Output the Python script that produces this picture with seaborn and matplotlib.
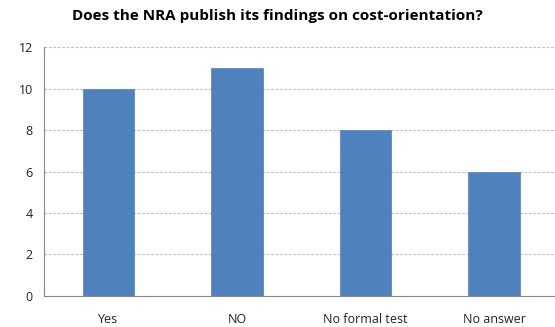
import matplotlib
matplotlib.use("Agg")
import matplotlib.pyplot as plt
import seaborn as sns
import pandas as pd
import numpy as np

categories = ["Yes", "NO", "No formal test", "No answer"]
counts = [10, 11, 8, 6]
y_ticks = [0, 2, 4, 6, 8, 10, 12]
title = "Does the NRA publish its findings on cost-orientation?"

sns.set_style("white")
plt.rcParams["font.family"] = ["Open Sans", "DejaVu Sans"]

df = pd.DataFrame({"category": categories, "count": counts})

fig = plt.figure(figsize=(5.55, 3.27), dpi=100)
ax = fig.add_axes([0.0793, 0.095, 0.927, 0.761])

sns.barplot(data=df, x="category", y="count", color="#4F81BD", saturation=1,
            width=0.40, ax=ax, zorder=3, edgecolor="#5A8BC6", linewidth=0.6)

ax.set_ylim(0, 12)
ax.set_xlim(-0.5, len(categories) - 0.5)
ax.set_yticks(y_ticks)
ax.set_yticklabels([str(t) for t in y_ticks], fontsize=9, color="#222222")
ax.tick_params(axis="x", length=0, labelsize=9, colors="#222222", pad=12)
ax.tick_params(axis="y", length=4, width=0.8, color="#868686", direction="out", pad=4)
ax.set_xticks(np.arange(-0.5, len(categories) + 0.5, 1), minor=True)
ax.tick_params(axis="x", which="minor", length=4.5, width=0.8, color="#868686", direction="out")

ax.yaxis.grid(True, linestyle=(0, (2.5, 1.5)), color="#BFBFBF", linewidth=0.8, zorder=0)
ax.set_axisbelow(True)

for side in ["top", "right"]:
    ax.spines[side].set_visible(False)
for side in ["left", "bottom"]:
    ax.spines[side].set_color("#868686")
    ax.spines[side].set_linewidth(0.8)

ax.set_xlabel("")
ax.set_ylabel("")
fig.text(0.5, 0.952, title, ha="center", va="center", fontsize=11, fontweight="bold",
         color="#000000")

fig.savefig("out.png", dpi=100)
